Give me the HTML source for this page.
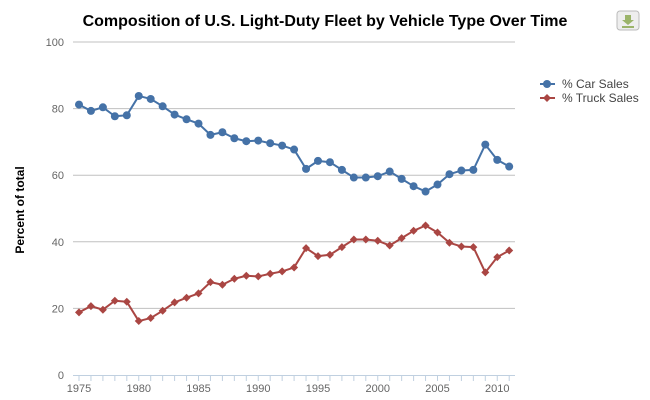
<!DOCTYPE html>
<html><head><meta charset="utf-8"><style>
body{margin:0;background:#fff;}
svg{display:block;font-family:"Liberation Sans",Arial,sans-serif;}
</style></head><body>
<svg id="s" width="650" height="400" xmlns="http://www.w3.org/2000/svg">
<text x="325" y="26" text-anchor="middle" font-size="16" font-weight="bold" fill="#000">Composition of U.S. Light-Duty Fleet by Vehicle Type Over Time</text>
<rect x="617" y="11" width="22" height="19" rx="3" fill="#eee" stroke="#bbb"/>
<path d="M625 15h6v5h3l-6 5-6-5h3z" fill="#9bb46a"/>
<rect x="622" y="26" width="12" height="2" fill="#9bb46a"/>
<text transform="translate(24,210) rotate(-90)" text-anchor="middle" font-size="12" font-weight="bold" fill="#000">Percent of total</text>
<g id="g"></g>
<line x1="540" y1="84" x2="555" y2="84" stroke="#4572a7" stroke-width="2"/><circle cx="547" cy="84" r="4" fill="#4572a7"/>
<text x="562" y="88" font-size="12" fill="#444">% Car Sales</text>
<line x1="540" y1="98" x2="555" y2="98" stroke="#aa4643" stroke-width="2"/><path d="M547 94l4 4-4 4-4-4z" fill="#aa4643"/>
<text x="562" y="102" font-size="12" fill="#444">% Truck Sales</text>
</svg>
<script>
var car=[81.2,79.3,80.4,77.7,78.0,83.8,82.9,80.7,78.2,76.8,75.5,72.1,72.9,71.1,70.2,70.4,69.6,68.9,67.7,61.9,64.3,63.9,61.6,59.3,59.3,59.7,61.1,58.9,56.7,55.1,57.2,60.3,61.4,61.6,69.2,64.6,62.6];
var X=function(i){return 79+i*11.95},Y=function(v){return 375-v*3.33};
var h='';
for(var v=20;v<=100;v+=20){var y=Y(v);h+='<line x1="73" y1="'+y+'" x2="515" y2="'+y+'" stroke="#c0c0c0"/>';}
for(var v=0;v<=100;v+=20)h+='<text x="64" y="'+(Y(v)+4)+'" text-anchor="end" font-size="11" fill="#666">'+v+'</text>';
h+='<line x1="73" y1="375.5" x2="515" y2="375.5" stroke="#c0d0e0"/>';
for(var i=0;i<37;i++){var x=X(i);h+='<line x1="'+x+'" y1="375" x2="'+x+'" y2="381" stroke="#c0d0e0"/>';if(i%5==0)h+='<text x="'+x+'" y="392" text-anchor="middle" font-size="11" fill="#666">'+(1975+i)+'</text>';}
var pc='',pt='';
for(var i=0;i<37;i++){pc+=X(i)+','+Y(car[i])+' ';pt+=X(i)+','+Y(100-car[i])+' ';}
h+='<polyline points="'+pc+'" fill="none" stroke="#4572a7" stroke-width="2" stroke-linejoin="round"/>';
h+='<polyline points="'+pt+'" fill="none" stroke="#aa4643" stroke-width="2" stroke-linejoin="round"/>';
for(var i=0;i<37;i++){var x=X(i),y=Y(car[i]),t=Y(100-car[i]);
h+='<circle cx="'+x+'" cy="'+y+'" r="4" fill="#4572a7"/>';
h+='<path d="M'+x+' '+(t-4)+'l4 4-4 4-4-4z" fill="#aa4643"/>';}
document.getElementById('g').innerHTML=h;
</script>
</body></html>
